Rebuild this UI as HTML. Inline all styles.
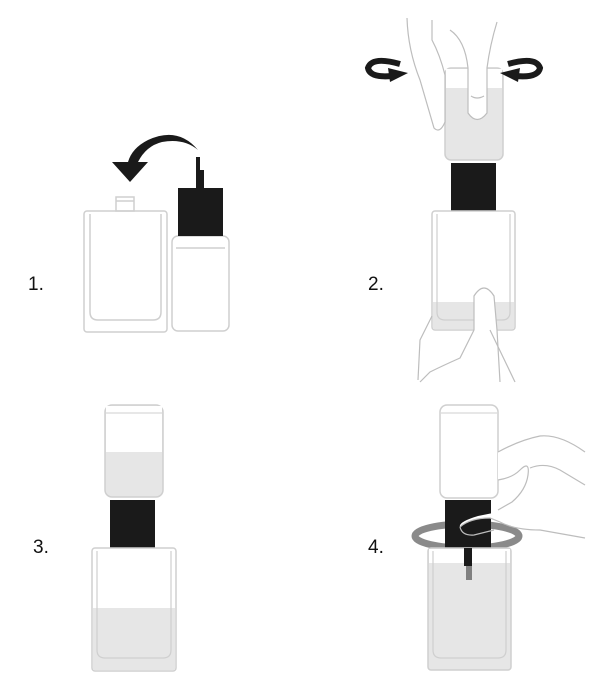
<!DOCTYPE html>
<html><head><style>body{margin:0;background:#fff}svg{display:block}text{font-family:"Liberation Sans",sans-serif;font-size:19px;fill:#111}</style></head><body>
<svg width="616" height="700" viewBox="0 0 616 700" xmlns="http://www.w3.org/2000/svg">
<g fill="none" stroke="#cfcfcf" stroke-width="1.5">
<rect x="116" y="197" width="18" height="14"/>
<line x1="116" y1="201" x2="134" y2="201"/>
<rect x="84" y="211" width="83" height="121" rx="3"/>
<path d="M90 214 V312 Q90 320 98 320 H153 Q161 320 161 312 V214"/>
<rect x="172" y="236" width="57" height="95" rx="6"/>
<path d="M176 248 H225"/>
</g>
<rect x="178" y="188" width="45" height="48" fill="#1a1a1a"/>
<path d="M196 157 H200 V170 H204 V188 H196 Z" fill="#1a1a1a"/>
<path d="M198 150 Q178 126 148 140 Q132 148 128 162 L112 162 L130 182 L148 162 L138 162 Q146 146 162 142 Q184 138 198 150 Z" fill="#1a1a1a"/>
<text x="28" y="290">1.</text>

<!-- Panel 2 -->
<rect x="445" y="68" width="58" height="92" rx="6" fill="#e6e6e6" stroke="#cfcfcf" stroke-width="1.5"/>
<rect x="446" y="69" width="56" height="19" fill="#fff"/>
<rect x="451" y="163" width="45" height="49" fill="#1a1a1a"/>
<path d="M469 212 H477 V240 H473 V228 H469 Z" fill="#1a1a1a"/>
<rect x="432" y="211" width="83" height="119" rx="3" fill="#fff" stroke="#cfcfcf" stroke-width="1.5"/>
<rect x="433" y="302" width="81" height="27" fill="#e6e6e6"/>
<path d="M437 214 V312 Q437 320 445 320 H502 Q510 320 510 312 V214" fill="none" stroke="#cfcfcf" stroke-width="1.2"/>
<g fill="#fff" stroke="#bdbdbd" stroke-width="1.2">
<path d="M407 18 Q408 50 420 80 L434 128 Q440 134 445 122 L445 75 Q440 55 432 40 L432 20"/>
<path d="M450 30 Q465 40 468 68 L468 113 Q477 126 487 113 L487 68 Q490 45 497 22"/>
<path d="M471 96 Q477 100 484 96" fill="none"/>
<path d="M474 330 L474 296 Q484 280 494 296 L497 330 L500 382"/>
<path d="M474 330 L460 358 Q442 366 430 372 L420 382" fill="none"/>
<path d="M432 316 L420 340 L418 380" fill="none"/>
<path d="M490 330 L515 382" fill="none"/>
</g>
<path d="M400 64 Q372 56 368 68 Q370 78 392 76" fill="none" stroke="#1a1a1a" stroke-width="6"/>
<path d="M388 68 L408 73 L390 82 Z" fill="#1a1a1a"/>
<path d="M508 64 Q536 56 540 68 Q538 78 516 76" fill="none" stroke="#1a1a1a" stroke-width="6"/>
<path d="M520 68 L500 73 L518 82 Z" fill="#1a1a1a"/>
<text x="368" y="290">2.</text>

<!-- Panel 3 -->
<rect x="105" y="405" width="58" height="92" rx="7" fill="#e6e6e6" stroke="#cfcfcf" stroke-width="1.5"/>
<rect x="106" y="406" width="56" height="46" fill="#fff"/>
<line x1="106" y1="413" x2="162" y2="413" stroke="#cfcfcf"/>
<rect x="110" y="500" width="45" height="48" fill="#1a1a1a"/>
<path d="M129 548 H137 V580 H133 V566 H129 Z" fill="#1a1a1a"/>
<rect x="92" y="548" width="84" height="123" rx="3" fill="#fff" stroke="#cfcfcf" stroke-width="1.5"/>
<rect x="93" y="608" width="82" height="62" fill="#e6e6e6"/>
<path d="M97 551 V650 Q97 658 105 658 H163 Q171 658 171 650 V551" fill="none" stroke="#cfcfcf" stroke-width="1.2"/>
<text x="33" y="553">3.</text>

<!-- Panel 4 -->
<rect x="440" y="405" width="58" height="93" rx="7" fill="#fff" stroke="#cfcfcf" stroke-width="1.5"/>
<line x1="441" y1="413" x2="497" y2="413" stroke="#cfcfcf"/>
<ellipse cx="467" cy="536" rx="52" ry="12" fill="none" stroke="#8a8a8a" stroke-width="7"/>
<rect x="445" y="500" width="46" height="48" fill="#1a1a1a"/>
<rect x="428" y="548" width="83" height="122" rx="3" fill="#e6e6e6" stroke="#cfcfcf" stroke-width="1.5"/>
<rect x="429" y="549" width="81" height="14" fill="#fff"/>
<path d="M433 551 V650 Q433 658 441 658 H498 Q506 658 506 650 V551" fill="none" stroke="#cfcfcf" stroke-width="1.2"/>
<rect x="464" y="548" width="8" height="18" fill="#1a1a1a"/>
<rect x="466" y="566" width="6" height="14" fill="#808080"/>
<path d="M460 527 Q470 518 490 518 L498 522 Q520 520 540 528 L585 538 L585 450 Q560 432 540 436 Q520 440 498 452 L498 480 Q510 490 505 500 L498 512 L478 516 Q458 522 460 527 Z" fill="#fff"/>
<g fill="none" stroke="#bdbdbd" stroke-width="1.2">
<path d="M498 452 Q520 440 540 436 Q560 434 585 452"/>
<path d="M498 480 Q512 478 520 470 Q530 460 528 475 Q526 490 512 502 L498 510"/>
<path d="M460 527 Q470 518 490 518 L500 522 Q515 530 540 530 L585 538"/>
<path d="M460 527 Q462 536 474 535 L494 530"/>
<path d="M530 468 Q545 462 560 470 L585 485"/>
</g>
<text x="368" y="553">4.</text>
</svg>
</body></html>
